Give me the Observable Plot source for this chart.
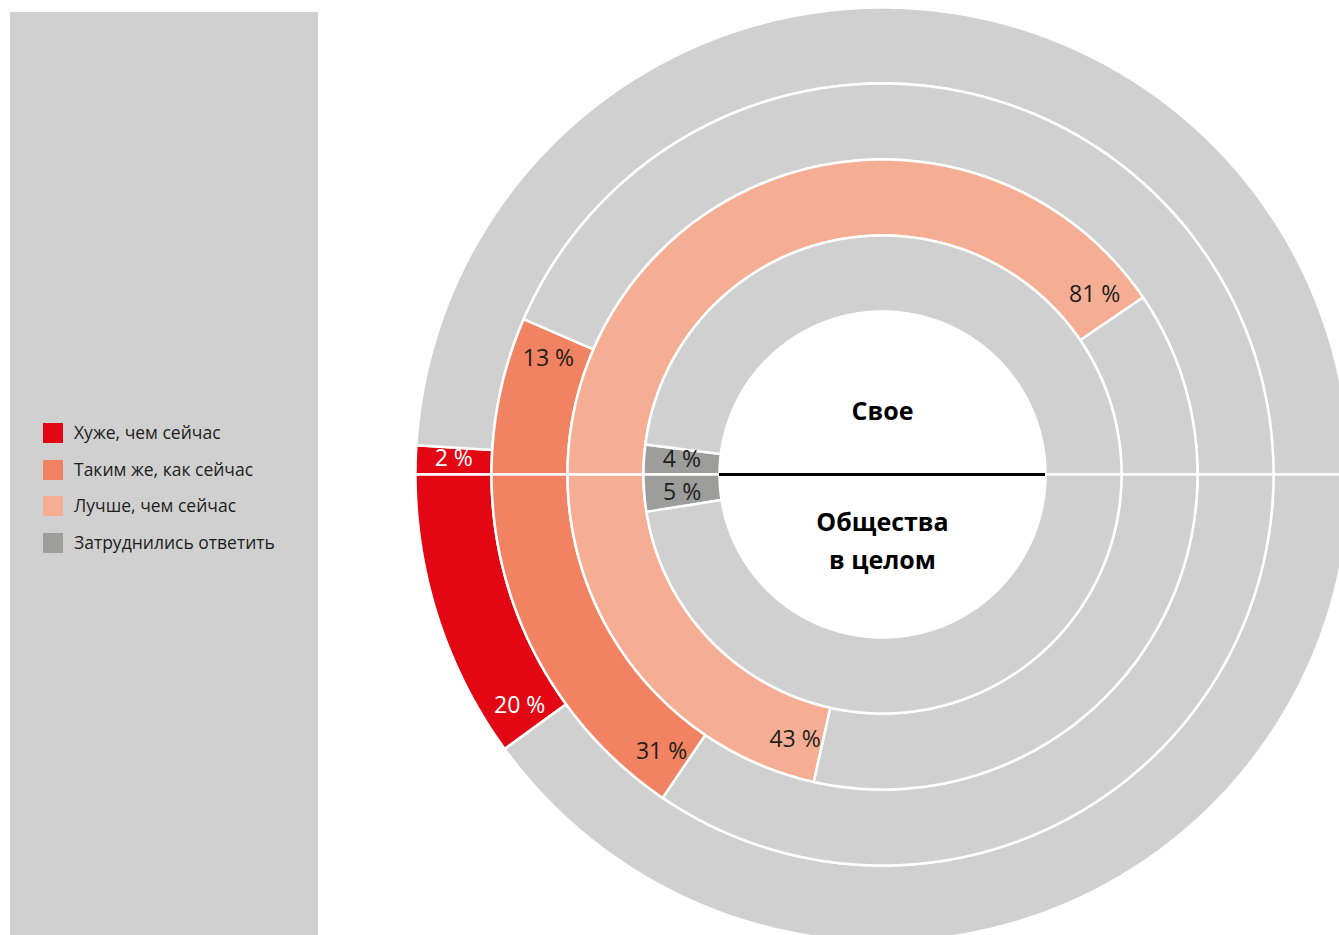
<!DOCTYPE html>
<html>
<head>
<meta charset="utf-8">
<script src="https://cdn.jsdelivr.net/npm/d3@7"></script>
<script src="https://cdn.jsdelivr.net/npm/@observablehq/plot@0.6"></script>
<style>
html, body { margin: 0; padding: 0; overflow: hidden; background: #fff; }
#wrap { position: relative; width: 1339px; height: 935px; overflow: hidden; font-family: "Open Sans", sans-serif; }
#chart { position: absolute; left: 0; top: 0; }
#panel { position: absolute; left: 10px; top: 12px; width: 308px; height: 923px; background: #d0d0d0; }
.item { position: absolute; left: 33px; height: 20px; display: flex; align-items: center; font-size: 17.5px; color: #1d1d1b; white-space: nowrap; }
.item span.tx { position: relative; top: -1px; }
.sw { width: 20px; height: 20px; margin-right: 11px; flex: none; }
</style>
</head>
<body>
<div id="wrap">
  <div id="chart"></div>
  <div id="panel"></div>
</div>
<script>
// ---- data ----
const categories = ["Хуже, чем сейчас", "Таким же, как сейчас", "Лучше, чем сейчас", "Затруднились ответить"];
const colors = ["#e30613", "#f18262", "#f5ae94", "#9d9d9c"];
const restColor = "#d0d0d0";
const halfTitles = ["Свое", "Общества\nв целом"];
const ownValues = [2, 13, 81, 4];
const societyValues = [20, 31, 43, 5];
const labelColors = ["#ffffff", "#1d1d1b", "#1d1d1b", "#1d1d1b"];

// ---- layout ----
const W = 1339, H = 935;
const cx = 882, cy = 474;              // pixel centre of the rings
const R = [163, 239, 315, 391, 467];   // ring boundaries, inner -> outer
const halves = [
  {sign: 1, values: ownValues, title: halfTitles[0], titleY: 67},
  {sign: -1, values: societyValues, title: halfTitles[1], titleY: -63}
];

function ringOf(k) { // category k -> [inner, outer]; "Затруднились" innermost
  const i = categories.length - 1 - k;
  return [R[i], R[i + 1]];
}
function theta(sign, t) { return Math.PI + (-sign) * t / 100 * Math.PI; }

// polygons
const rows = [];
let id = 0;
function addSeg(sign, t0, t1, r0, r1, cat) {
  const pts = [];
  const n = Math.max(2, Math.ceil(Math.abs(t1 - t0) * 4));
  for (let j = 0; j <= n; j++) {
    const a = theta(sign, t0 + (t1 - t0) * j / n);
    pts.push([r1 * Math.cos(a), r1 * Math.sin(a)]);
  }
  for (let j = n; j >= 0; j--) {
    const a = theta(sign, t0 + (t1 - t0) * j / n);
    pts.push([r0 * Math.cos(a), r0 * Math.sin(a)]);
  }
  pts.push(pts[0]);
  for (const [x, y] of pts) rows.push({id, x, y, cat});
  id++;
}
const labels = [];
halves.forEach(h => {
  h.values.forEach((p, k) => {
    const [r0, r1] = ringOf(k);
    addSeg(h.sign, 0, p, r0, r1, categories[k]);
    addSeg(h.sign, p, 100, r0, r1, "rest");
    const rm = (r0 + r1) / 2;
    const t = p <= 6 ? p / 2 : p - (28 / rm) * (100 / Math.PI);
    const a = theta(h.sign, t);
    labels.push({x: rm * Math.cos(a), y: rm * Math.sin(a), text: `${p} %`, color: labelColors[k], half: h.sign});
  });
});
const labelMark = (sign, dy) => Plot.text(labels.filter(d => d.half === sign), {
  x: "x", y: "y", text: "text", fill: d => d.color, fontSize: 23, fontWeight: 400, dy
});

const plot = Plot.plot({
  width: W,
  height: H,
  margin: 0,
  style: {background: "transparent", fontFamily: "'Open Sans', sans-serif", overflow: "hidden"},
  x: {domain: [-cx, W - cx], axis: null},
  y: {domain: [-(H - cy), cy], axis: null},
  color: {domain: [...categories, "rest"], range: [...colors, restColor]},
  marks: [
    Plot.line(rows, {x: "x", y: "y", z: "id", fill: "cat", stroke: "white", strokeWidth: 2.5, curve: "linear"}),
    Plot.ruleY([0], {x1: -R[0], x2: R[0], stroke: "#000", strokeWidth: 3}),
    labelMark(1, -2),
    labelMark(-1, 2),
    Plot.text(halves, {x: 0, y: "titleY", text: "title", fontSize: 25, fontWeight: 700, lineHeight: 1.52, fill: "#000"})
  ]
});
document.getElementById("chart").appendChild(plot);

// legend
const panel = document.getElementById("panel");
categories.forEach((c, i) => {
  const item = document.createElement("div");
  item.className = "item";
  item.style.top = (411 + i * 36.7) + "px";
  const sw = document.createElement("span");
  sw.className = "sw";
  sw.style.background = colors[i];
  const tx = document.createElement("span");
  tx.className = "tx";
  tx.textContent = c;
  item.appendChild(sw);
  item.appendChild(tx);
  panel.appendChild(item);
});
</script>
</body>
</html>
